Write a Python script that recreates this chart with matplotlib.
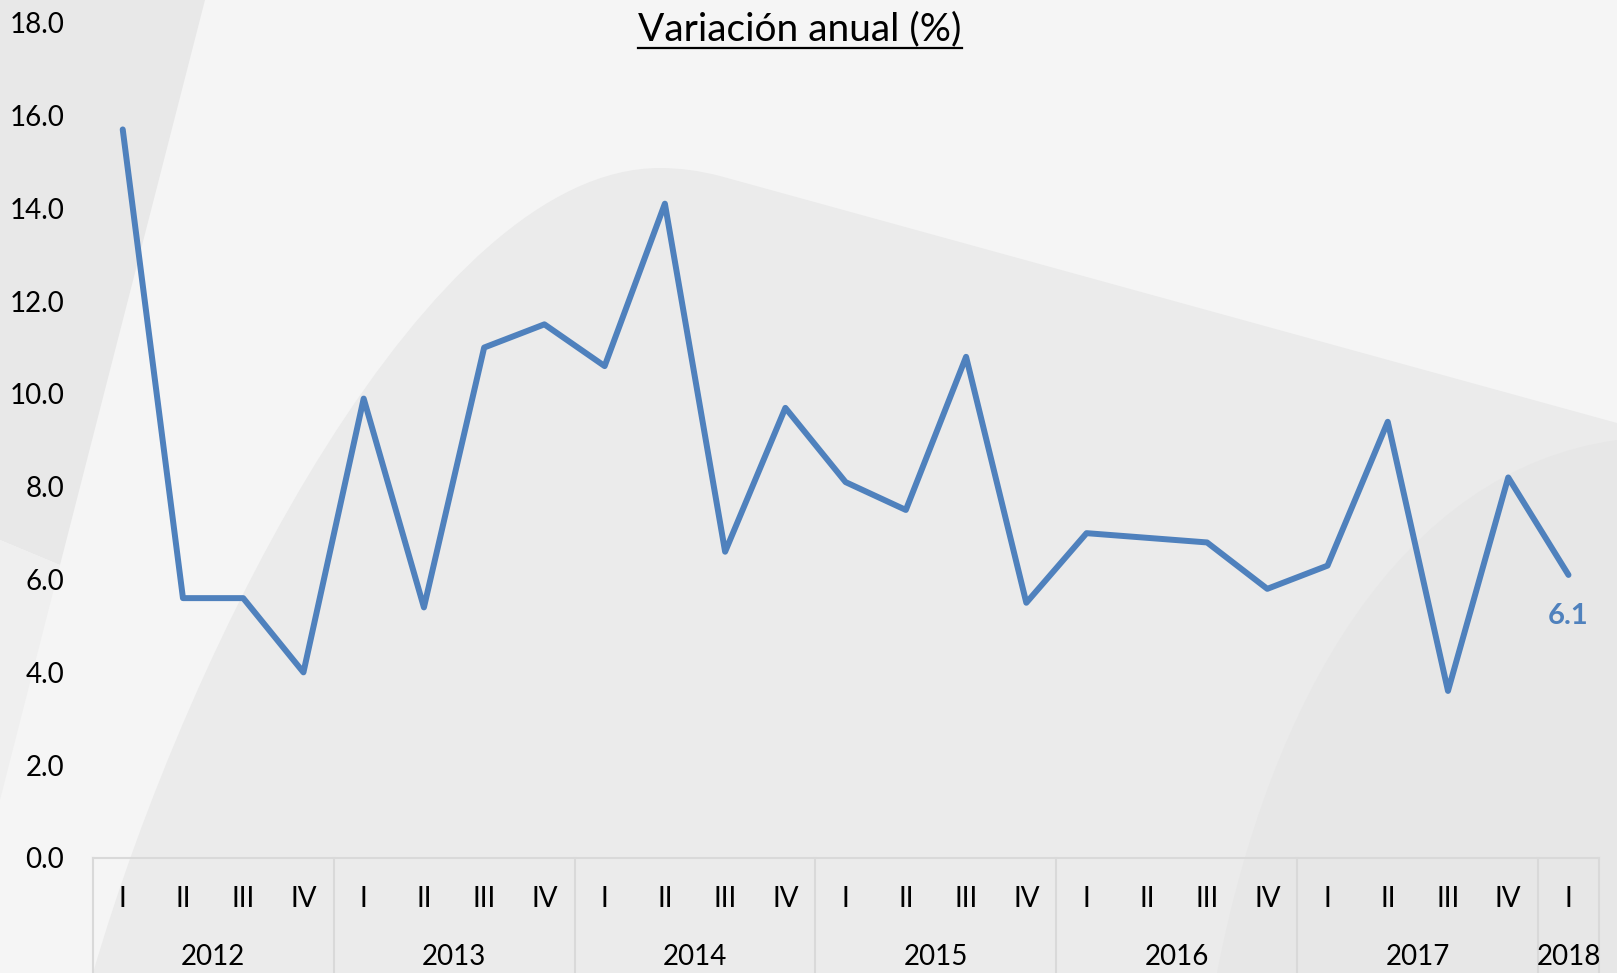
import matplotlib
matplotlib.use("Agg")
import matplotlib.pyplot as plt
from matplotlib.path import Path
from matplotlib.patches import PathPatch, Polygon
from matplotlib.lines import Line2D

# data
years = ['2012', '2013', '2014', '2015', '2016', '2017', '2018']
quarters = ['I', 'II', 'III', 'IV'] * 6 + ['I']
values = [15.7, 5.6, 5.6, 4.0,
          9.9, 5.4, 11.0, 11.5,
          10.6, 14.1, 6.6, 9.7,
          8.1, 7.5, 10.8, 5.5,
          7.0, 6.9, 6.8, 5.8,
          6.3, 9.4, 3.6, 8.2,
          6.1]
title = 'Variación anual (%)'

W, H = 1617, 973
blue = '#4F81BD'
plt.rcParams['font.family'] = ['Lato', 'DejaVu Sans']

fig = plt.figure(figsize=(W / 100, H / 100), dpi=100, facecolor='#f5f5f5')

# --- decorative background, pixel coords --- #
bg = fig.add_axes([0, 0, 1, 1], zorder=0)
bg.set_xlim(0, W)
bg.set_ylim(H, 0)
bg.axis('off')

bg.add_patch(Polygon([(0, 0), (205, 0), (60, 565), (0, 540)], closed=True,
                     facecolor='#e8e8e8', edgecolor='none'))
bg.add_patch(Polygon([(0, 540), (60, 565), (0, 800)], closed=True,
                     facecolor='#efefef', edgecolor='none'))

hill = Path([(93, 973), (190, 640), (430, 168), (660, 168),
             (690, 168), (720, 176),
             (1617, 423), (1617, 973), (93, 973)],
            [Path.MOVETO, Path.CURVE4, Path.CURVE4, Path.CURVE4,
             Path.CURVE3, Path.CURVE3,
             Path.LINETO, Path.LINETO, Path.CLOSEPOLY])
bg.add_patch(PathPatch(hill, facecolor='#ebebeb', edgecolor='none'))

right = Path([(1217, 973), (1270, 700), (1400, 470), (1617, 440),
              (1617, 973), (1217, 973)],
             [Path.MOVETO, Path.CURVE4, Path.CURVE4, Path.CURVE4,
              Path.LINETO, Path.CLOSEPOLY])
bg.add_patch(PathPatch(right, facecolor='#e7e7e7', edgecolor='none'))

# --- main chart --- #
left, right_px, top, bottom = 92.6, 1598.6, 22.7, 858
ax = fig.add_axes([left / W, (H - bottom) / H, (right_px - left) / W, (bottom - top) / H],
                  zorder=1)
ax.set_facecolor('none')

x = list(range(len(values)))
ax.plot(x, values, color=blue, lw=4.3, solid_joinstyle='round', solid_capstyle='round')
ax.set_xlim(-0.5, len(values) - 0.5)
ax.set_ylim(0, 18)

ax.set_yticks(range(0, 19, 2))
ax.set_yticklabels(['%.1f' % v for v in range(0, 19, 2)])
ax.tick_params(axis='y', length=0, pad=20.5, labelsize=20)
ax.set_xticks([])
for s in ['top', 'left', 'right']:
    ax.spines[s].set_visible(False)
ax.spines['bottom'].set_color('#d9d9d9')
ax.spines['bottom'].set_linewidth(1.5)

# category box
tr = ax.get_xaxis_transform()
ybot = -(H - bottom) / (bottom - top) - 0.01
for b in [-0.5, 3.5, 7.5, 11.5, 15.5, 19.5, 23.5, 24.5]:
    ax.plot([b, b], [0, ybot], color='#d9d9d9', lw=1.5, transform=tr, clip_on=False)

yq = -(899 - bottom) / (bottom - top)
yy = -(957 - bottom) / (bottom - top)
for i, q in enumerate(quarters):
    ax.text(i, yq, q, transform=tr, ha='center', va='center', fontsize=20)
for k, yr in enumerate(years):
    start = 4 * k
    end = min(4 * k + 3, len(values) - 1)
    ax.text((start + end) / 2, yy, yr, transform=tr, ha='center', va='center', fontsize=20)

# last value label
ax.annotate('%.1f' % values[-1], (x[-1], values[-1]), xytext=(0, -41),
            textcoords='offset pixels', ha='center', va='center',
            fontsize=21, fontweight='bold', color=blue)

# title with underline
t = fig.text(800 / W, 1 - 29 / H, title, ha='center', va='center', fontsize=28)
fig.canvas.draw()
bb = t.get_window_extent(fig.canvas.get_renderer())
uy = (H - 47.5) / H
fig.add_artist(Line2D([bb.x0 / W, bb.x1 / W], [uy, uy], color='black', lw=1.6))

fig.savefig('out.png', dpi=100, facecolor=fig.get_facecolor())
